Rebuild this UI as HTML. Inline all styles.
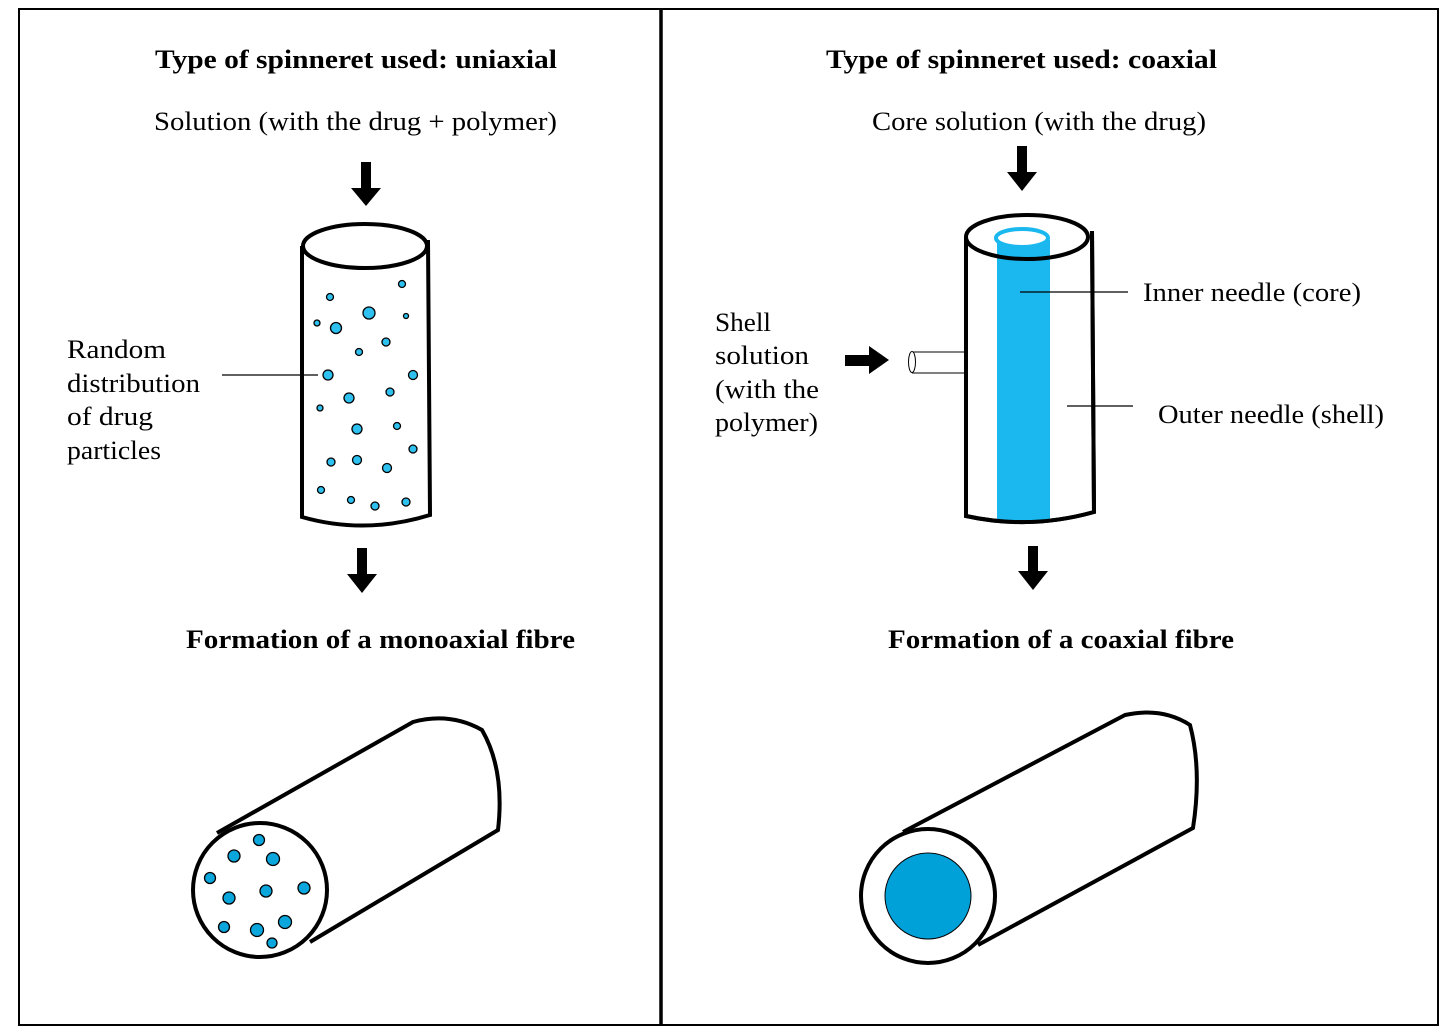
<!DOCTYPE html>
<html><head><style>body{margin:0;background:#fff}svg{display:block}text{font-family:"Liberation Serif",serif;fill:#000}</style></head><body>
<svg width="1456" height="1036" viewBox="0 0 1456 1036">
<rect x="19" y="9" width="1419" height="1016" fill="#fff" stroke="#000" stroke-width="2"/>
<line x1="661" y1="9" x2="661" y2="1025" stroke="#000" stroke-width="3.5"/>
<g font-size="26">
<text x="155" y="68" textLength="402" lengthAdjust="spacingAndGlyphs" font-weight="bold">Type of spinneret used: uniaxial</text>
<text x="154" y="130" textLength="403" lengthAdjust="spacingAndGlyphs">Solution (with the drug + polymer)</text>
<text x="186" y="648" textLength="389" lengthAdjust="spacingAndGlyphs" font-weight="bold">Formation of a monoaxial fibre</text>
<text x="826" y="68" textLength="391" lengthAdjust="spacingAndGlyphs" font-weight="bold">Type of spinneret used: coaxial</text>
<text x="872" y="130" textLength="334" lengthAdjust="spacingAndGlyphs">Core solution (with the drug)</text>
<text x="888" y="648" textLength="346" lengthAdjust="spacingAndGlyphs" font-weight="bold">Formation of a coaxial fibre</text>
<text x="67" y="358" textLength="99" lengthAdjust="spacingAndGlyphs">Random</text><text x="67" y="392" textLength="133" lengthAdjust="spacingAndGlyphs">distribution</text><text x="67" y="425" textLength="86" lengthAdjust="spacingAndGlyphs">of drug</text><text x="67" y="459" textLength="94" lengthAdjust="spacingAndGlyphs">particles</text>
<text x="715" y="331" textLength="56" lengthAdjust="spacingAndGlyphs">Shell</text><text x="715" y="364" textLength="94" lengthAdjust="spacingAndGlyphs">solution</text><text x="715" y="398" textLength="104" lengthAdjust="spacingAndGlyphs">(with the</text><text x="715" y="431" textLength="103" lengthAdjust="spacingAndGlyphs">polymer)</text>
<text x="1143" y="301" textLength="218" lengthAdjust="spacingAndGlyphs">Inner needle (core)</text>
<text x="1158" y="423" textLength="226" lengthAdjust="spacingAndGlyphs">Outer needle (shell)</text>
</g>
<g fill="#000">
<rect x="361" y="162" width="10" height="28"/><polygon points="351,188 381,188 366,206"/>
<rect x="357" y="548" width="10" height="28"/><polygon points="347,574 377,574 362,593"/>
<rect x="1017" y="146" width="10" height="28"/><polygon points="1007,172 1037,172 1022,191"/>
<rect x="1028" y="546" width="10" height="27"/><polygon points="1018,571 1048,571 1033,590"/>
<rect x="845" y="355" width="26" height="11"/><polygon points="869,346 889,360 869,374"/>
</g>
<!-- left cylinder -->
<path d="M302,246 L302,517 Q365,535 430,515 L428,240" fill="#fff" stroke="#000" stroke-width="4"/>
<ellipse cx="365" cy="246" rx="62" ry="22" fill="#fff" stroke="#000" stroke-width="4"/>
<line x1="222" y1="375" x2="318" y2="375" stroke="#000" stroke-width="1.2"/>
<g fill="#2ec0ee" stroke="#000" stroke-width="1.3">
<circle cx="330" cy="297" r="3.5"/><circle cx="402" cy="284" r="3.5"/><circle cx="369" cy="313" r="6"/><circle cx="317" cy="323" r="3"/><circle cx="336" cy="328" r="5.5"/><circle cx="406" cy="316" r="2.5"/><circle cx="386" cy="342" r="4"/><circle cx="359" cy="352" r="3.5"/><circle cx="328" cy="375" r="5"/><circle cx="413" cy="375" r="4.5"/><circle cx="349" cy="398" r="5"/><circle cx="390" cy="392" r="4"/><circle cx="320" cy="408" r="3"/><circle cx="357" cy="429" r="5"/><circle cx="397" cy="426" r="3.5"/><circle cx="331" cy="462" r="4"/><circle cx="357" cy="460" r="4.5"/><circle cx="387" cy="468" r="4.5"/><circle cx="413" cy="449" r="4"/><circle cx="321" cy="490" r="3.5"/><circle cx="351" cy="500" r="3.5"/><circle cx="375" cy="506" r="4"/><circle cx="406" cy="502" r="4"/>
</g>
<!-- right cylinder -->
<path d="M966,237 L966,516 Q1030,530 1094,512 L1092,231" fill="#fff" stroke="#000" stroke-width="4"/>
<rect x="997" y="240" width="53" height="280" fill="#1ab8ee"/>
<ellipse cx="1027" cy="237" rx="61" ry="22" fill="none" stroke="#000" stroke-width="4"/>
<path d="M966,237 L966,516 Q1030,530 1094,512 L1092,231" fill="none" stroke="#000" stroke-width="4"/>
<ellipse cx="1022" cy="238" rx="26" ry="9" fill="#fff" stroke="#1ab8ee" stroke-width="4"/>
<line x1="1020" y1="292" x2="1128" y2="292" stroke="#000" stroke-width="1.2"/>
<line x1="1067" y1="406" x2="1133" y2="406" stroke="#000" stroke-width="1.2"/>
<path d="M965,352 L912,352 M965,373 L912,373" stroke="#000" stroke-width="1"/>
<ellipse cx="912" cy="362" rx="3.5" ry="10.5" fill="#fff" stroke="#000" stroke-width="1"/>
<!-- left fibre -->
<path d="M217,833 L413,722 Q450,712 482,730 Q505,770 498,830 L310,942" fill="#fff" stroke="#000" stroke-width="4"/>
<circle cx="260" cy="890" r="67" fill="#fff" stroke="#000" stroke-width="4"/>
<g fill="#0ba6dc" stroke="#000" stroke-width="1.3">
<circle cx="259" cy="840" r="5.5"/><circle cx="234" cy="856" r="6"/><circle cx="273" cy="859" r="6.5"/><circle cx="210" cy="878" r="5.5"/><circle cx="229" cy="898" r="6"/><circle cx="266" cy="891" r="6"/><circle cx="304" cy="888" r="6"/><circle cx="224" cy="927" r="5.5"/><circle cx="257" cy="930" r="6.5"/><circle cx="285" cy="922" r="6.5"/><circle cx="272" cy="943" r="5"/>
</g>
<!-- right fibre -->
<path d="M903,832 L1125,715 Q1162,707 1190,725 Q1202,770 1193,828 L978,945" fill="#fff" stroke="#000" stroke-width="4"/>
<circle cx="928" cy="896" r="67" fill="#fff" stroke="#000" stroke-width="4"/>
<circle cx="928" cy="896" r="43" fill="#00a0d8" stroke="#000" stroke-width="1"/>
</svg>
</body></html>
